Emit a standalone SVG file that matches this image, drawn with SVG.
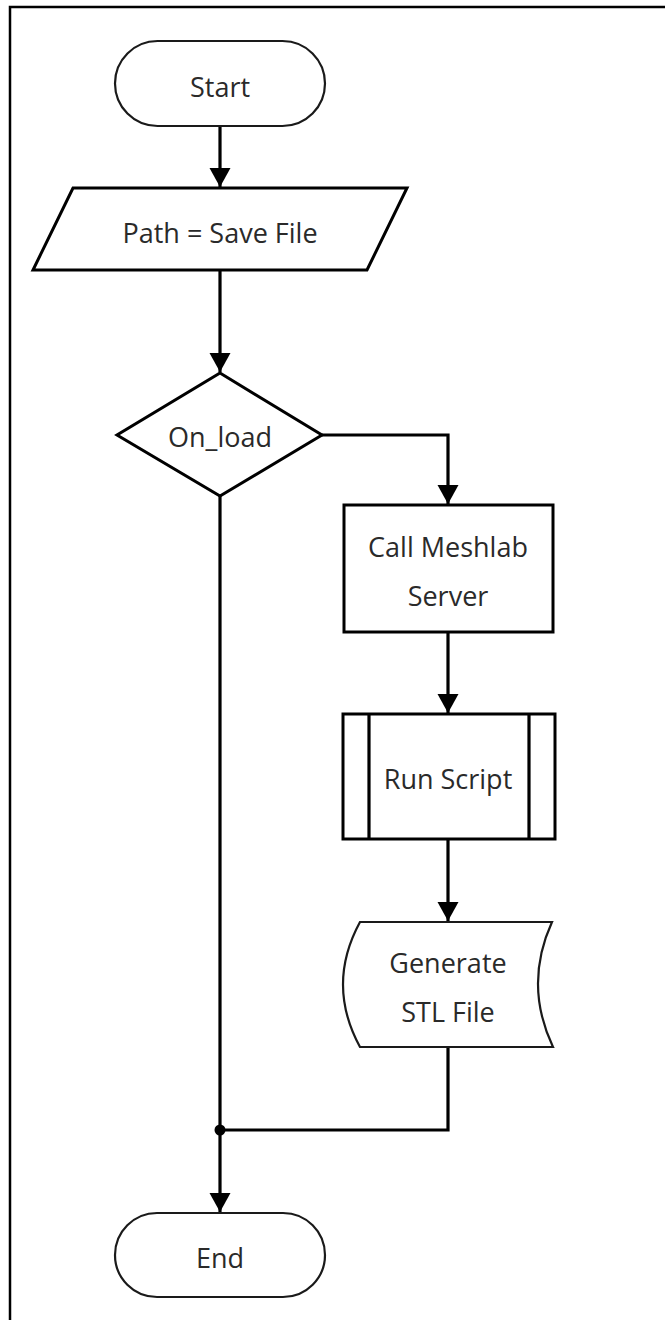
<svg xmlns="http://www.w3.org/2000/svg" width="665" height="1320" viewBox="0 0 665 1320">
<style>
.node{fill:#fff;stroke:#000;stroke-width:3}
.term{fill:#fff;stroke:#1a1a1a;stroke-width:2.2}
.edge{fill:none;stroke:#000;stroke-width:3.2}
.lbl{font-family:"Open Sans","Noto Sans",sans-serif;font-size:27px;fill:#2a2a2a;text-anchor:middle}
</style>
<defs>
<marker id="arr" markerUnits="userSpaceOnUse" markerWidth="20" markerHeight="22" refX="19" refY="10.5" orient="auto" viewBox="0 0 20 21">
<path d="M0,0 L19,10.5 L0,21 Z" fill="#000"/>
</marker>
</defs>
<rect width="665" height="1320" fill="#fff"/>
<path id="frame" d="M10,1320 V7 H665" fill="none" stroke="#000" stroke-width="2.5"/>
<g id="connectors">
<path class="edge" d="M220,126 V187" marker-end="url(#arr)"/>
<path class="edge" d="M220,270 V372" marker-end="url(#arr)"/>
<path class="edge" d="M322,435 H448 V504" marker-end="url(#arr)"/>
<path class="edge" d="M448,632 V713" marker-end="url(#arr)"/>
<path class="edge" d="M448,839 V921" marker-end="url(#arr)"/>
<path class="edge" d="M448,1047 V1130 H220"/>
<path class="edge" d="M220,496 V1212" marker-end="url(#arr)"/>
<circle cx="220" cy="1130" r="5.5" fill="#000"/>
</g>
<g id="start">
<rect class="term" x="115" y="41" width="210" height="85" rx="42.5"/>
<text class="lbl" x="220" y="97">Start</text>
</g>
<g id="path-save">
<polygon class="node" points="73,188 407,188 367,270 33,270"/>
<text class="lbl" x="220" y="243">Path = Save File</text>
</g>
<g id="on-load">
<polygon class="node" points="220,373 322,435 220,496 117,435"/>
<text class="lbl" x="220" y="447">On_load</text>
</g>
<g id="call-meshlab">
<rect class="node" x="344" y="505" width="209" height="127"/>
<text class="lbl" x="448" y="557">Call Meshlab</text>
<text class="lbl" x="448" y="606">Server</text>
</g>
<g id="run-script">
<rect class="node" x="343" y="714" width="212" height="125"/>
<path class="edge" d="M369,714 V839 M529,714 V839"/>
<text class="lbl" x="448" y="789">Run Script</text>
</g>
<g id="generate-stl">
<path class="term" d="M360,922 H552 Q523.5,984.5 553,1047 H360 Q326,984.5 360,922 Z"/>
<text class="lbl" x="448" y="973">Generate</text>
<text class="lbl" x="448" y="1022">STL File</text>
</g>
<g id="end">
<rect class="term" x="115" y="1213" width="210" height="84" rx="42"/>
<text class="lbl" x="220" y="1268">End</text>
</g>
</svg>
